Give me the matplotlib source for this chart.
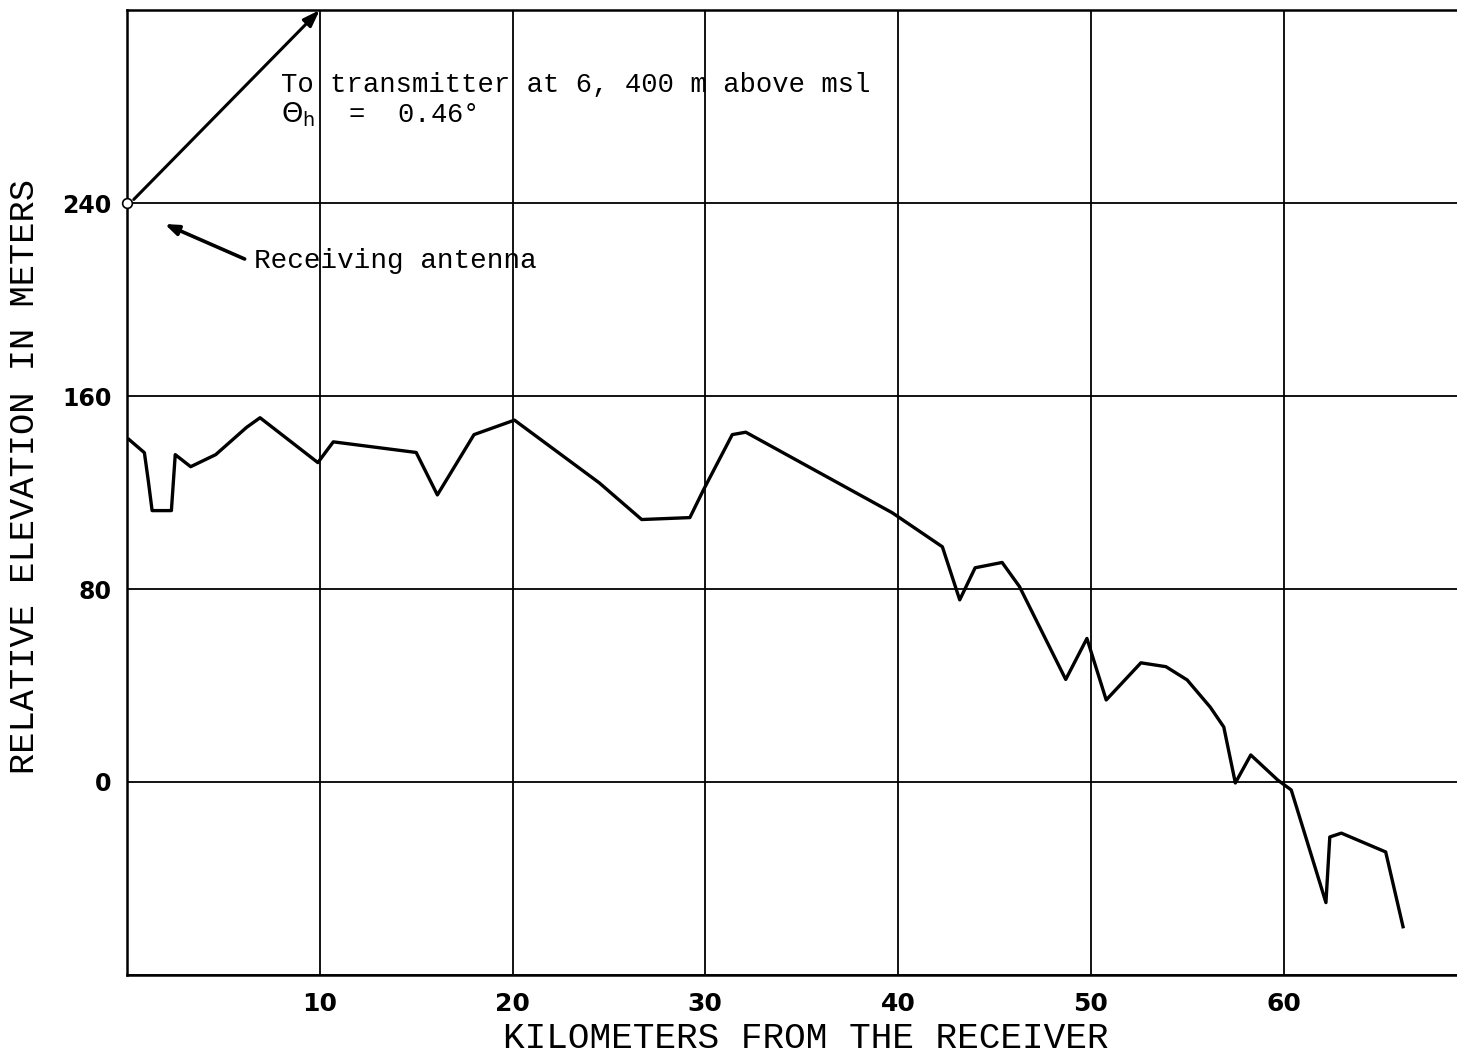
import matplotlib.pyplot as plt

# terrain profile (km from receiver, relative elevation m)
dist_km = [0.1, 0.9, 1.1, 1.3, 2.3, 2.5, 3.3, 4.6, 6.2, 6.9, 9.9, 10.7, 15.0,
           16.1, 18.0, 20.1, 24.5, 26.7, 29.2, 29.9, 31.4, 32.1, 39.7, 42.3,
           43.2, 44.0, 45.4, 46.3, 48.7, 49.8, 50.8, 52.6, 53.9, 55.0, 56.2,
           56.9, 57.5, 58.3, 59.7, 60.4, 62.2, 62.4, 63.0, 65.3, 66.2]
elev_m = [142, 136.5, 125, 112.5, 112.5, 135.7, 130.7, 135.7, 147, 151, 132.4,
          141, 136.6, 119, 144, 150, 124, 108.8, 109.6, 121, 144, 145, 111.6,
          97.5, 75.5, 88.8, 91, 81, 42.5, 59.5, 34, 49.4, 47.8, 42.3, 31, 22.8,
          -0.4, 11.2, 0.8, -3.3, -50, -22.8, -21.2, -29, -60]

x_ticks = [10, 20, 30, 40, 50, 60]
y_ticks = [0, 80, 160, 240]

antenna = (0, 240)
ray_end = (10.0, 320)

mono = "Liberation Mono"

fig = plt.figure(figsize=(14.57, 10.57), dpi=100)
ax = fig.add_axes([0.0872, 0.0776, 0.9128, 0.9129])

ax.set_xlim(0, 69)
ax.set_ylim(-80, 320)

ax.set_xticks(x_ticks)
ax.set_yticks([-80] + y_ticks + [320])
ax.set_yticklabels([""] + [str(v) for v in y_ticks] + [""])
ax.tick_params(length=0)
ax.tick_params(axis="x", labelsize=18, pad=12)
ax.tick_params(axis="y", labelsize=17, pad=11)
for lab in ax.get_xticklabels() + ax.get_yticklabels():
    lab.set_fontweight("bold")
    lab.set_family("DejaVu Sans")

ax.grid(True, color="black", linewidth=1.3)
for side in ["left", "top", "bottom"]:
    ax.spines[side].set_linewidth(1.8)
ax.spines["right"].set_visible(False)

ax.plot(dist_km, elev_m, color="black", linewidth=2.4)

# receiving antenna and ray to transmitter
ax.plot(*antenna, marker="o", markersize=7, markerfacecolor="white",
        markeredgecolor="black", markeredgewidth=1.2, clip_on=False, zorder=5)
ax.annotate("", xy=ray_end, xytext=(0.35, 241.5),
            arrowprops=dict(arrowstyle="-|>,head_length=1.0,head_width=0.35",
                            color="black", lw=2.2, shrinkA=0, shrinkB=0),
            annotation_clip=False)
ax.text(8.0, 289, "To transmitter at 6, 400 m above msl", family=mono,
        fontsize=19.6, va="center", ha="left")
ax.text(8.0, 276.5, r"$\Theta_{\rm h}$  =  0.46°", family=mono,
        fontsize=19.6, va="center", ha="left")

ax.annotate("", xy=(1.95, 231.3), xytext=(6.1, 216.8),
            arrowprops=dict(arrowstyle="-|>,head_length=0.8,head_width=0.3",
                            color="black", lw=2.6, shrinkA=0, shrinkB=0))
ax.text(6.6, 216, "Receiving antenna", family=mono, fontsize=20,
        va="center", ha="left")

ax.set_xlabel("KILOMETERS FROM THE RECEIVER", family=mono, fontsize=26,
              va="center")
ax.xaxis.set_label_coords(0.5105, -0.066)
ax.set_ylabel("RELATIVE ELEVATION IN METERS", family=mono, fontsize=25.5,
              va="center")
ax.yaxis.set_label_coords(-0.077, 0.517)

fig.savefig("out.png", dpi=100)
